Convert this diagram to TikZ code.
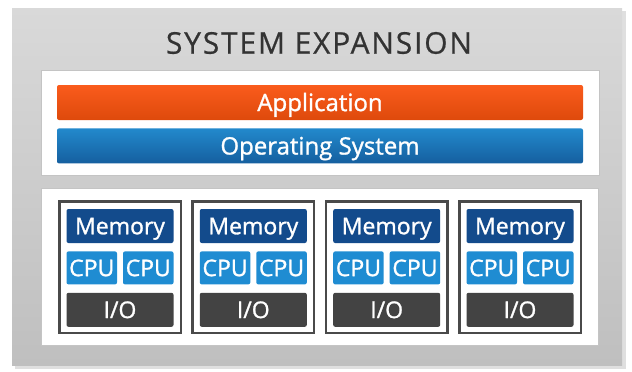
\documentclass[tikz,border=0pt]{standalone}
\usepackage{fontspec}
\setmainfont{Open Sans}
\usetikzlibrary{positioning}

\definecolor{panelgray}{HTML}{D9D9D9}
\definecolor{paneldark}{HTML}{BFBFBF}
\definecolor{boxline}{HTML}{C4C4C4}
\definecolor{apptop}{HTML}{FA5B1C}
\definecolor{appbot}{HTML}{DE4A0C}
\definecolor{ostop}{HTML}{2289CC}
\definecolor{osbot}{HTML}{155F9F}
\definecolor{memblue}{HTML}{134B8C}
\definecolor{cpublue}{HTML}{1F8CD2}
\definecolor{iogray}{HTML}{434343}
\definecolor{framegray}{HTML}{4A4A4A}
\definecolor{titlegray}{HTML}{333333}

\begin{document}
\begin{tikzpicture}[x=1pt, y=-1pt, node distance=8pt,
	bar/.style={rounded corners=2pt, minimum width=526pt, minimum height=35pt, inner sep=0pt, text=white, text height=17.2pt, text depth=0pt, font=\fontsize{24}{28}\selectfont\addfontfeature{FakeBold=1.2}},
	fr/.style={draw=framegray, line width=2.5pt, fill=white, minimum width=121.5pt, minimum height=131.5pt, inner sep=0pt},
	blk/.style={rounded corners=2pt, inner sep=0pt, text=white, text height=16.5pt, text depth=0pt, font=\fontsize{23}{27}\selectfont\addfontfeature{FakeBold=1.2}},
	mem/.style={blk, fill=memblue, minimum width=107pt, minimum height=34pt},
	cpu/.style={blk, fill=cpublue, minimum width=50.5pt, minimum height=33pt},
	io/.style={blk, fill=iogray, minimum width=107pt, minimum height=34pt},
	pan/.style={fill=white, draw=boxline, line width=0.6pt}]
	\useasboundingbox (0,0) rectangle (632,372);
	\fill[white] (0,0) rectangle (632,372);
	% outer panel
	\fill[gray!25] (15,11) rectangle (626,369);
	\shade[top color=panelgray, bottom color=paneldark] (12,8) rectangle (622,365);
	\node[text=titlegray, font=\fontsize{30}{34}\selectfont\addfontfeature{LetterSpace=6,FakeBold=0.6}] (title) at (319,43) {SYSTEM EXPANSION};

	% software layers
	\draw[pan] (41,70) rectangle (599,175);
	\node[bar, top color=apptop, bottom color=appbot] (app) at (320,102.5) {Application};
	\node[bar, top color=ostop, bottom color=osbot, below=of app] (os) {Operating System};

	% hardware modules
	\draw[pan] (41,188) rectangle (598,345);

	\node[fr] (F1) at (120,267) {};
	\node[mem] (M1) at (120,226) {Memory};
	\node[cpu, below=of M1.south west, anchor=north west] (C1a) {CPU};
	\node[cpu, below=of M1.south east, anchor=north east] (C1b) {CPU};
	\node[io, below=of C1a.south west, anchor=north west] (I1) {I/O};

	\node[fr] (F2) at (253.3,267) {};
	\node[mem] (M2) at (253.3,226) {Memory};
	\node[cpu, below=of M2.south west, anchor=north west] (C2a) {CPU};
	\node[cpu, below=of M2.south east, anchor=north east] (C2b) {CPU};
	\node[io, below=of C2a.south west, anchor=north west] (I2) {I/O};

	\node[fr] (F3) at (386.7,267) {};
	\node[mem] (M3) at (386.7,226) {Memory};
	\node[cpu, below=of M3.south west, anchor=north west] (C3a) {CPU};
	\node[cpu, below=of M3.south east, anchor=north east] (C3b) {CPU};
	\node[io, below=of C3a.south west, anchor=north west] (I3) {I/O};

	\node[fr] (F4) at (520,267) {};
	\node[mem] (M4) at (520,226) {Memory};
	\node[cpu, below=of M4.south west, anchor=north west] (C4a) {CPU};
	\node[cpu, below=of M4.south east, anchor=north east] (C4b) {CPU};
	\node[io, below=of C4a.south west, anchor=north west] (I4) {I/O};
\end{tikzpicture}
\end{document}
